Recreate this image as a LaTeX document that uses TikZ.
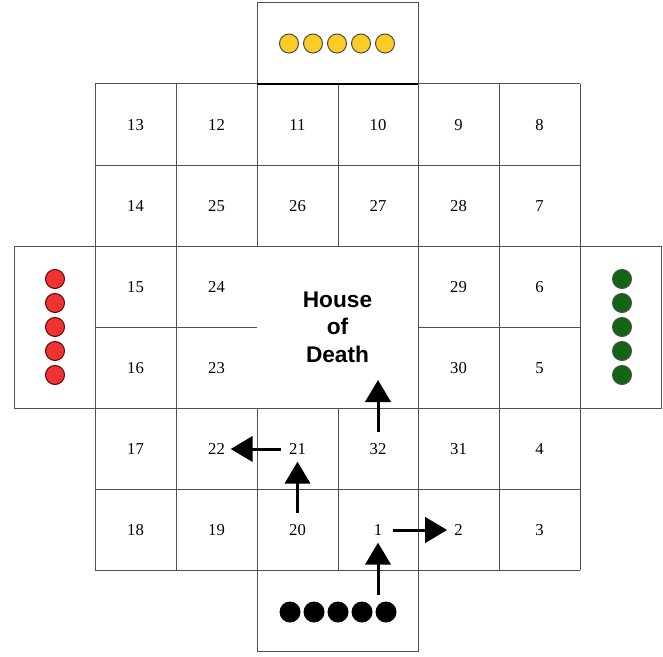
\documentclass[tikz,border=0pt]{standalone}
\usepackage{fontspec}
\setmainfont{Liberation Serif}
\newfontfamily\hodfont{Liberation Sans}
\usetikzlibrary{arrows.meta}
\definecolor{gridgray}{HTML}{505050}
\definecolor{tokyellow}{HTML}{FCCB24}
\definecolor{tokred}{HTML}{EE3333}
\definecolor{tokgreen}{HTML}{126512}
\begin{document}
\begin{tikzpicture}[x=0.75pt,y=-0.75pt,line width=0.75pt,every node/.style={font=\fontsize{12.5}{14}\selectfont,inner sep=4pt},
  move/.style={line width=2.25pt,-{Triangle[length=16.5pt,width=19pt]},shorten <=4pt,shorten >=1pt}]
\useasboundingbox (0,0) rectangle (663,656);
% board
\begin{scope}[draw=gridgray]
\draw (95,84) -- (580,84);
\draw (95,165) -- (580,165);
\draw (95,246) -- (580,246);
\draw (95,327) -- (257,327);
\draw (418,327) -- (580,327);
\draw (95,408) -- (580,408);
\draw (95,489) -- (580,489);
\draw (95,570) -- (580,570);
\draw (95,84) -- (95,570);
\draw (176,84) -- (176,570);
\draw (257,84) -- (257,246);
\draw (257,408) -- (257,570);
\draw (338,84) -- (338,246);
\draw (338,408) -- (338,570);
\draw (418,84) -- (418,570);
\draw (499,84) -- (499,570);
\draw (580,84) -- (580,570);
\draw (257,3) rectangle (418,84);
\draw (257,570) rectangle (418,651);
\draw (14,246) rectangle (95,408);
\draw (580,246) rectangle (661,408);
\end{scope}
\draw[line width=1.5pt] (257,84) -- (418,84);
% squares
\node (n13) at (135.5,125) {13};
\node (n12) at (216.5,125) {12};
\node (n11) at (297.5,125) {11};
\node (n10) at (378,125) {10};
\node (n9) at (458.5,125) {9};
\node (n8) at (539.5,125) {8};
\node (n14) at (135.5,206) {14};
\node (n25) at (216.5,206) {25};
\node (n26) at (297.5,206) {26};
\node (n27) at (378,206) {27};
\node (n28) at (458.5,206) {28};
\node (n7) at (539.5,206) {7};
\node (n15) at (135.5,287) {15};
\node (n24) at (216.5,287) {24};
\node (n29) at (458.5,287) {29};
\node (n6) at (539.5,287) {6};
\node (n16) at (135.5,368) {16};
\node (n23) at (216.5,368) {23};
\node (n30) at (458.5,368) {30};
\node (n5) at (539.5,368) {5};
\node (n17) at (135.5,449) {17};
\node (n22) at (216.5,449) {22};
\node (n21) at (297.5,449) {21};
\node (n32) at (378,449) {32};
\node (n31) at (458.5,449) {31};
\node (n4) at (539.5,449) {4};
\node (n18) at (135.5,530) {18};
\node (n19) at (216.5,530) {19};
\node (n20) at (297.5,530) {20};
\node (n1) at (378,530) {1};
\node (n2) at (458.5,530) {2};
\node (n3) at (539.5,530) {3};
\node[font=\hodfont\bfseries\fontsize{17}{20.5}\selectfont,align=center] (hod) at (337.5,327) {House\\of\\Death};
% pieces
\filldraw[fill=tokyellow,draw=black!70] (289,43.5) circle[radius=9.5];
\filldraw[fill=tokyellow,draw=black!70] (313,43.5) circle[radius=9.5];
\filldraw[fill=tokyellow,draw=black!70] (337,43.5) circle[radius=9.5];
\filldraw[fill=tokyellow,draw=black!70] (361,43.5) circle[radius=9.5];
\filldraw[fill=tokyellow,draw=black!70] (385,43.5) circle[radius=9.5];
\filldraw[fill=tokred,draw=black!60!red] (55,279) circle[radius=9.5];
\filldraw[fill=tokred,draw=black!60!red] (55,303) circle[radius=9.5];
\filldraw[fill=tokred,draw=black!60!red] (55,327) circle[radius=9.5];
\filldraw[fill=tokred,draw=black!60!red] (55,351) circle[radius=9.5];
\filldraw[fill=tokred,draw=black!60!red] (55,375) circle[radius=9.5];
\filldraw[fill=tokgreen,draw=black!70] (622,279) circle[radius=9.5];
\filldraw[fill=tokgreen,draw=black!70] (622,303) circle[radius=9.5];
\filldraw[fill=tokgreen,draw=black!70] (622,327) circle[radius=9.5];
\filldraw[fill=tokgreen,draw=black!70] (622,351) circle[radius=9.5];
\filldraw[fill=tokgreen,draw=black!70] (622,375) circle[radius=9.5];
\fill (290,612) circle[radius=10.5];
\fill (314,612) circle[radius=10.5];
\fill (338,612) circle[radius=10.5];
\fill (362,612) circle[radius=10.5];
\fill (386,612) circle[radius=10.5];
% moves
\coordinate (start) at (378,595);
\coordinate (hodin) at (378,380);
\draw[move,shorten <=0pt] (start) -- (n1);
\draw[move] (n1) -- (n2);
\draw[move] (n20) -- (n21);
\draw[move,shorten <=2pt,shorten >=0pt] (n21) -- (n22);
\draw[move,shorten >=0pt] (n32) -- (hodin);
\end{tikzpicture}
\end{document}
